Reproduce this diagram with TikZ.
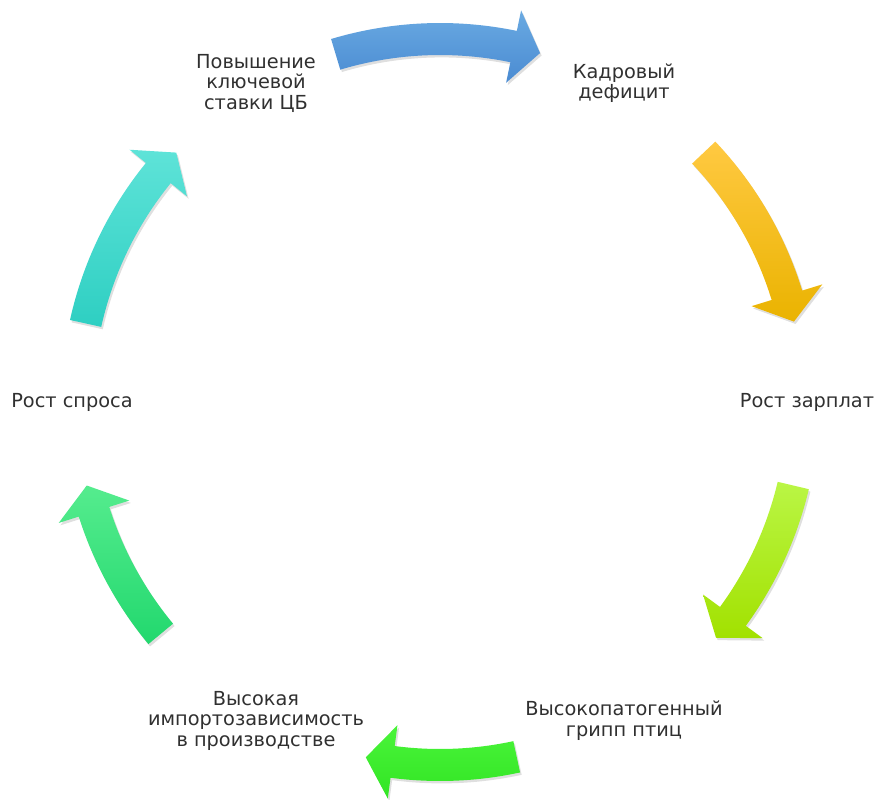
\documentclass[tikz,border=0pt]{standalone}
\usepackage{fontspec}
\setmainfont{DejaVu Sans}
\usetikzlibrary{shadows}

\definecolor{blueTop}{HTML}{6AAAE2}
\definecolor{blueBot}{HTML}{4A8BD2}
\definecolor{yellowTop}{HTML}{FFC942}
\definecolor{yellowBot}{HTML}{EAB300}
\definecolor{limeTop}{HTML}{BAF645}
\definecolor{limeBot}{HTML}{A2E100}
\definecolor{greenTop}{HTML}{4AF43A}
\definecolor{greenBot}{HTML}{32E524}
\definecolor{mintTop}{HTML}{55EC8E}
\definecolor{mintBot}{HTML}{22D86E}
\definecolor{tealTop}{HTML}{5EE3D8}
\definecolor{tealBot}{HTML}{2ECFC2}
\definecolor{labelGray}{HTML}{303030}

% curved block arrow on the circle: #1 tail angle, #2 tip angle, #3 top colour, #4 bottom colour
\newcommand{\cyclearrow}[4]{%
  \pgfmathsetmacro{\headbase}{#2+4.3}
  \shade[top color=#3, bottom color=#4,
         drop shadow={opacity=0.25, shadow xshift=1.2pt, shadow yshift=-1.8pt}]
    (#1:379) arc[start angle=#1, end angle=\headbase, radius=379]
    -- (\headbase:400) -- (#2:363) -- (\headbase:326)
    -- (\headbase:347) arc[start angle=\headbase, end angle=#1, radius=347]
    -- cycle;
}

\begin{document}
\begin{tikzpicture}[x=0.75pt, y=0.75pt,
    step label/.style={align=center, text=labelGray,
      font=\fontsize{14.5}{15.4}\selectfont}]
        \useasboundingbox (-440,-398) rectangle (435,402);

        % Labels.
        \node[step label] (rate)    at (120:368) {Повышение\\ключевой\\ставки ЦБ};
        \node[step label] (staff)   at (60:368)  {Кадровый\\дефицит};
        \node[step label] (wages)   at (0:367)   {Рост зарплат};
        \node[step label] (flu)     at (-60:368) {Высокопатогенный\\грипп птиц};
        \node[step label] (imports) at (-120:368) {Высокая\\импортозависимость\\в производстве};
        \node[step label] (demand)  at (180:368) {Рост спроса};

        % rate -> staff
        \cyclearrow{106.7}{74}{blueTop}{blueBot}
        % staff -> wages
        \cyclearrow{43.4}{12.8}{yellowTop}{yellowBot}
        % wages -> flu
        \cyclearrow{-13.3}{-40.5}{limeTop}{limeBot}
        % flu -> imports
        \cyclearrow{-77.8}{-101.8}{greenTop}{greenBot}
        % imports -> demand
        \cyclearrow{-140.3}{-166.7}{mintTop}{mintBot}
        % demand -> rate
        \cyclearrow{167.5}{136.6}{tealTop}{tealBot}

    \end{tikzpicture}
\end{document}
